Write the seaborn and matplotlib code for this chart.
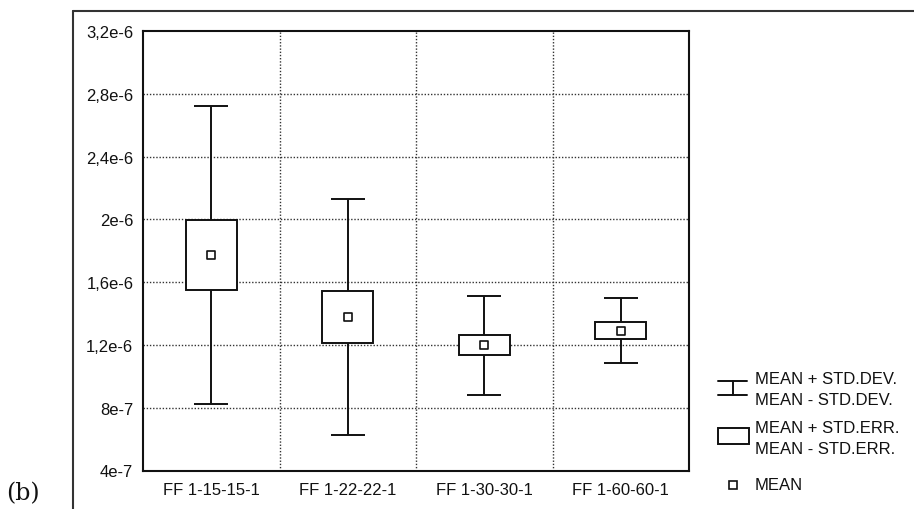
import numpy as np
import pandas as pd
import matplotlib
matplotlib.use("Agg")
import matplotlib.pyplot as plt
import seaborn as sns
from matplotlib.patches import Rectangle
from matplotlib.lines import Line2D

# Network configurations and their summary statistics
configs = ["FF 1-15-15-1", "FF 1-22-22-1", "FF 1-30-30-1", "FF 1-60-60-1"]
mean_vals = [1.772e-6, 1.378e-6, 1.198e-6, 1.290e-6]
std_dev = [0.948e-6, 0.753e-6, 0.316e-6, 0.206e-6]
std_err = [0.222e-6, 0.168e-6, 0.064e-6, 0.053e-6]

y_ticks = [4e-7, 8e-7, 1.2e-6, 1.6e-6, 2e-6, 2.4e-6, 2.8e-6, 3.2e-6]
y_tick_labels = ["4e-7", "8e-7", "1,2e-6", "1,6e-6", "2e-6", "2,4e-6", "2,8e-6", "3,2e-6"]

df = pd.DataFrame({
    "config": configs,
    "pos": np.arange(len(configs)),
    "mean": mean_vals,
    "sd": std_dev,
    "se": std_err,
})

sns.set_style("white")
plt.rcParams["font.family"] = ["Liberation Sans", "DejaVu Sans"]

W, H = 914, 510
fig = plt.figure(figsize=(W / 100, H / 100), dpi=100)
ax = fig.add_axes([143 / W, 1 - 471.5 / H, (689 - 143) / W, (471.5 - 32) / H])

ink = "#111111"

# whiskers: mean +/- standard deviation
ax.errorbar(df["pos"], df["mean"], yerr=df["sd"], fmt="none", ecolor=ink,
            elinewidth=1.4, capsize=12.2, capthick=1.4, zorder=3)

# boxes: mean +/- standard error
ax.bar(df["pos"], 2 * df["se"], bottom=df["mean"] - df["se"], width=0.37,
       facecolor="white", edgecolor=ink, linewidth=1.4, zorder=4)

# mean markers
sns.scatterplot(data=df, x="pos", y="mean", marker="s", s=30,
                facecolor="white", edgecolor=ink, linewidth=1.2,
                zorder=5, ax=ax, legend=False)

ax.set_xlim(-0.5, len(configs) - 0.5)
ax.set_ylim(y_ticks[0], y_ticks[-1])
ax.set_xticks(df["pos"], configs)
ax.set_yticks(y_ticks, y_tick_labels)
ax.set_xlabel("")
ax.set_ylabel("")

# dotted grid at category boundaries and inner y ticks
grid_kw = dict(linestyle=(0, (1, 1.3)), color="#333333", linewidth=1.0, zorder=1)
for b in np.arange(0.5, len(configs) - 0.5, 1.0):
    ax.axvline(b, **grid_kw)
for t in y_ticks[1:-1]:
    ax.axhline(t, **grid_kw)

ax.tick_params(axis="both", length=0, labelsize=12, colors=ink)
ax.tick_params(axis="y", pad=7)
ax.tick_params(axis="x", pad=8)
for sp in ax.spines.values():
    sp.set_color(ink)
    sp.set_linewidth(1.5)
    sp.set_visible(True)

# outer frame
fx, fy = 73 / W, 1 - 12 / H
fig.add_artist(Line2D([fx, 1.0], [fy, fy], transform=fig.transFigure,
                      color="#333333", linewidth=1.5))
fig.add_artist(Line2D([fx, fx], [0.0, fy], transform=fig.transFigure,
                      color="#333333", linewidth=1.5))

# legend drawn in pixel space
lg = fig.add_axes([0, 0, 1, 1], facecolor="none")
lg.set_xlim(0, W)
lg.set_ylim(H, 0)
lg.axis("off")

cx = 732.5
lg.plot([718, 747], [381.5, 381.5], color=ink, lw=1.4)
lg.plot([718, 747], [396, 396], color=ink, lw=1.4)
lg.plot([cx, cx], [381.5, 396], color=ink, lw=1.4)
lg.add_patch(Rectangle((718, 429), 31, 15.5, facecolor="white",
                       edgecolor=ink, lw=1.4))
lg.plot([cx], [486], marker="s", markersize=5.5, markerfacecolor="white",
        markeredgecolor=ink, markeredgewidth=1.2)

txt_kw = dict(fontsize=12, color=ink, va="center", ha="left")
lg.text(755, 379.5, "MEAN + STD.DEV.", **txt_kw)
lg.text(755, 401, "MEAN - STD.DEV.", **txt_kw)
lg.text(755, 428.5, "MEAN + STD.ERR.", **txt_kw)
lg.text(755, 450, "MEAN - STD.ERR.", **txt_kw)
lg.text(755, 486, "MEAN", **txt_kw)

# panel label
lg.text(23, 494, "(b)", fontsize=17, family=["DejaVu Serif"], color=ink,
        ha="center", va="center")

fig.savefig("out.png", dpi=100, facecolor="white")
